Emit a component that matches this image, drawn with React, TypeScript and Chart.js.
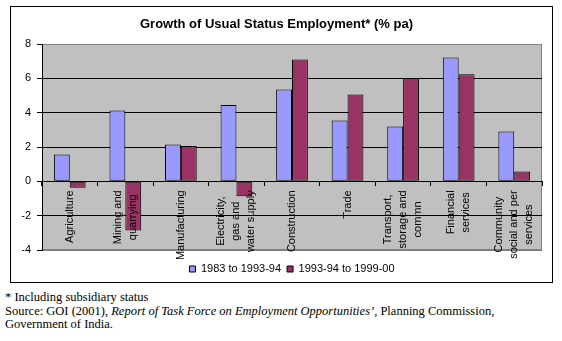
import React, { useEffect, useRef } from 'react';
import { Chart, registerables } from 'chart.js';

Chart.register(...registerables);

const chartTitle = 'Growth of Usual Status Employment* (% pa)';
const categories: (string | string[])[] = [
  'Agriculture',
  ['Mining and', 'quarrying'],
  'Manufacturing',
  ['Electricity,', 'gas and', 'water supply'],
  'Construction',
  'Trade',
  ['Transport,', 'storage and', 'commn'],
  ['Financial', 'services'],
  ['Community', 'social and per', 'services'],
];
const seriesNames = ['1983 to 1993-94', '1993-94 to 1999-00'];
const growth1983to1994 = [1.56, 4.12, 2.14, 4.45, 5.35, 3.54, 3.19, 7.21, 2.9];
const growth1994to2000 = [-0.37, -2.87, 2.06, -0.87, 7.1, 5.06, 6.02, 6.24, 0.57];
const yMin = -4;
const yMax = 8;
const yStep = 2;

const FONT = '"Liberation Sans", Arial, sans-serif';

const plotAreaPlugin = {
  id: 'plotArea',
  beforeDraw(chart: any) {
    const { ctx, chartArea: a } = chart;
    ctx.save();
    ctx.fillStyle = '#C0C0C0';
    ctx.fillRect(a.left, a.top, a.right - a.left, a.bottom - a.top);
    ctx.strokeStyle = '#808080';
    ctx.lineWidth = 1;
    ctx.strokeRect(a.left + 0.5, a.top + 0.5, a.right - a.left - 1, a.bottom - a.top - 1);
    ctx.restore();
  },
};

// Excel-style: lines of a rotated multi-line label centred on each other and on the tick
const centerLabelsPlugin = {
  id: 'centerLabels',
  beforeDraw(chart: any) {
    const scale = chart.scales.x;
    if (!scale) return;
    const items = scale.getLabelItems();
    const ctx = chart.ctx;
    items.forEach((item: any) => {
      if (item._centered) return;
      const lines: string[] = Array.isArray(item.label) ? item.label : [String(item.label)];
      ctx.save();
      ctx.font = item.font.string;
      const maxW = Math.max(...lines.map((l) => ctx.measureText(l).width));
      ctx.restore();
      const t = item.options.translation;
      item.options.textAlign = 'center';
      item.options.translation = [
        t[0] - ((lines.length - 1) * item.font.lineHeight) / 2,
        t[1] + maxW / 2,
      ];
      item._centered = true;
    });
  },
};

export default function App() {
  const ref = useRef<HTMLCanvasElement | null>(null);

  useEffect(() => {
    if (!ref.current) return;
    const chart = new Chart(ref.current, {
      type: 'bar',
      data: {
        labels: categories as any,
        datasets: [
          {
            label: seriesNames[0],
            data: growth1983to1994,
            backgroundColor: '#9999FF',
            borderColor: '#000000',
            borderWidth: 1,
            borderSkipped: false,
            categoryPercentage: 0.571,
            barPercentage: 1,
          },
          {
            label: seriesNames[1],
            data: growth1994to2000,
            backgroundColor: '#993366',
            borderColor: '#000000',
            borderWidth: 1,
            borderSkipped: false,
            categoryPercentage: 0.571,
            barPercentage: 1,
          },
        ],
      },
      options: {
        animation: false,
        responsive: false,
        devicePixelRatio: 1,
        layout: { padding: { left: 0, right: 10, top: 0, bottom: 2.5 } },
        scales: {
          x: {
            type: 'category',
            position: { y: 0 } as any,
            offset: true,
            grid: {
              display: true,
              drawOnChartArea: false,
              drawTicks: true,
              tickLength: 4,
              color: '#000000',
              offset: true,
            },
            border: { display: true, color: '#000000', width: 1, z: 1 },
            ticks: {
              z: 1,
              autoSkip: false,
              minRotation: 90,
              maxRotation: 90,
              padding: 5,
              color: '#000000',
              font: { family: FONT, size: 11, lineHeight: '15px' as any },
            },
            afterFit: (s: any) => {
              s.paddingLeft = 0;
              s.paddingRight = 0;
              s.paddingTop = 0;
              s.paddingBottom = 0;
            },
          },
          spacer: {
            type: 'category',
            position: 'bottom',
            labels: [''],
            display: true,
            grid: { display: false, drawTicks: false },
            border: { display: false },
            ticks: { display: false },
            afterFit: (s: any) => {
              s.height = 7.5;
              s.paddingLeft = 0;
              s.paddingRight = 0;
            },
          },
          y: {
            min: yMin,
            max: yMax,
            ticks: {
              stepSize: yStep,
              padding: 6,
              color: '#000000',
              font: { family: FONT, size: 11 },
            },
            grid: {
              color: (c: any) =>
                c.tick && (c.tick.value === yMax || c.tick.value === yMin) ? '#808080' : '#000000',
              tickColor: '#000000',
              tickLength: 5,
              lineWidth: 1,
            },
            border: { display: true, color: '#000000', width: 1 },
            afterFit: (s: any) => {
              s.width = 31;
            },
          },
        },
        plugins: {
          title: {
            display: true,
            text: chartTitle,
            color: '#000000',
            font: { family: FONT, size: 13, weight: 'bold', lineHeight: 1.2 },
            padding: { top: 9.2, bottom: 12.2 },
          },
          legend: {
            position: 'bottom',
            fullSize: false,
            labels: {
              boxWidth: 6,
              boxHeight: 6,
              padding: 6,
              color: '#000000',
              font: { family: FONT, size: 11 },
            },
          },
          tooltip: { enabled: false },
        },
      } as any,
      plugins: [plotAreaPlugin, centerLabelsPlugin],
    });
    return () => chart.destroy();
  }, []);

  return (
    <div
      style={{
        position: 'absolute',
        left: 0,
        top: 0,
        width: 562,
        height: 341,
        background: '#ffffff',
        overflow: 'hidden',
      }}
    >
      <div
        style={{
          position: 'absolute',
          left: 10,
          top: 6,
          width: 543,
          height: 277,
          border: '1px solid #000000',
          boxSizing: 'border-box',
        }}
      />
      <canvas
        ref={ref}
        width={541}
        height={280}
        style={{ position: 'absolute', left: 11, top: 7, width: 541, height: 280, display: 'block' }}
      />
      <div
        style={{
          position: 'absolute',
          left: 5,
          top: 291,
          fontFamily: '"Liberation Serif", "Times New Roman", serif',
          fontSize: 12.5,
          lineHeight: '13.5px',
          color: '#000000',
          whiteSpace: 'nowrap',
        }}
      >
        <div>* Including subsidiary status</div>
        <div>
          Source: GOI (2001), <i>Report of Task Force on Employment Opportunities’</i>, Planning Commission,
        </div>
        <div>Government of India.</div>
      </div>
    </div>
  );
}
